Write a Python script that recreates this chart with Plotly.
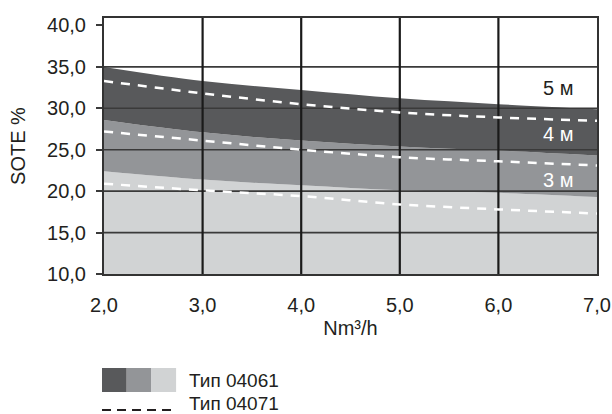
import plotly.graph_objects as go

# ---- data ----
flow = [2.0, 3.0, 4.0, 5.0, 6.0, 7.0]
band_3m_top = [22.4, 21.4, 20.7, 20.1, 19.8, 19.3]   # Тип 04061, 3 m
band_4m_top = [28.6, 27.1, 26.1, 25.4, 24.9, 24.3]   # Тип 04061, 4 m
band_5m_top = [35.0, 33.3, 32.2, 31.2, 30.5, 29.9]   # Тип 04061, 5 m
dash_5m = [33.3, 31.8, 30.5, 29.5, 28.9, 28.5]       # Тип 04071, 5 m
dash_4m = [27.2, 26.1, 25.0, 24.1, 23.6, 23.1]       # Тип 04071, 4 m
dash_3m = [20.9, 20.1, 19.4, 18.4, 17.8, 17.3]       # Тип 04071, 3 m

x_ticks = [2, 3, 4, 5, 6, 7]
x_tick_labels = ["2,0", "3,0", "4,0", "5,0", "6,0", "7,0"]
y_ticks = [10, 15, 20, 25, 30, 35, 40]
y_tick_labels = ["10,0", "15,0", "20,0", "25,0", "30,0", "35,0", "40,0"]
depth_labels = ["3 м", "4 м", "5 м"]
depth_label_y = [21.3, 26.9, 32.5]
depth_label_color = ["white", "white", "#231f20"]
legend_labels = ["Тип 04061", "Тип 04071"]

C_DARK = "#58595b"
C_MID = "#939598"
C_LIGHT = "#d1d3d4"
FONT = "Liberation Sans, Arial, sans-serif"

Y_MIN, Y_MAX = 10, 40.9

fig = go.Figure()

# filled bands
fig.add_trace(go.Scatter(x=flow, y=band_3m_top, mode="lines", line=dict(width=0, shape="spline"),
                         fill="tozeroy", fillcolor=C_LIGHT, hoverinfo="skip", showlegend=False))
fig.add_trace(go.Scatter(x=flow, y=band_4m_top, mode="lines", line=dict(width=0, shape="spline"),
                         fill="tonexty", fillcolor=C_MID, hoverinfo="skip", showlegend=False))
fig.add_trace(go.Scatter(x=flow, y=band_5m_top, mode="lines", line=dict(width=0, shape="spline"),
                         fill="tonexty", fillcolor=C_DARK, hoverinfo="skip", showlegend=False))

# grid lines drawn above fills
for yv in y_ticks[1:-1]:
    fig.add_trace(go.Scatter(x=[x_ticks[0], x_ticks[-1]], y=[yv, yv], mode="lines",
                             line=dict(color="#3a3a3a", width=1.6), hoverinfo="skip", showlegend=False))
for xv in x_ticks[1:-1]:
    fig.add_trace(go.Scatter(x=[xv, xv], y=[Y_MIN, Y_MAX], mode="lines",
                             line=dict(color="#1a1a1a", width=2.2), hoverinfo="skip", showlegend=False))

# dashed lines
for d in (dash_5m, dash_4m, dash_3m):
    fig.add_trace(go.Scatter(x=flow, y=d, mode="lines",
                             line=dict(color="white", width=2.5, dash="9px,8px", shape="spline"),
                             hoverinfo="skip", showlegend=False))

# depth labels
for lbl, yv, col in zip(depth_labels, depth_label_y, depth_label_color):
    fig.add_annotation(x=6.6, y=yv, text=lbl, showarrow=False,
                       font=dict(size=20, color=col, family=FONT))

# custom legend
sw = [C_DARK, C_MID, C_LIGHT]
x0 = 102
for i, c in enumerate(sw):
    fig.add_shape(type="rect", xref="paper", yref="paper",
                  x0=(x0 + 24.7 * i - 104) / 493, x1=(x0 + 24.7 * (i + 1) - 104) / 493,
                  y0=(274 - 392) / 256, y1=(274 - 368) / 256,
                  fillcolor=c, line=dict(width=0), layer="above")
fig.add_shape(type="line", xref="paper", yref="paper",
              x0=(102 - 104) / 493, x1=(177 - 104) / 493,
              y0=(274 - 410) / 256, y1=(274 - 410) / 256,
              line=dict(color="#231f20", width=2, dash="9px,6px"))
fig.add_annotation(xref="paper", yref="paper", x=(187 - 104) / 493, y=(274 - 380) / 256,
                   text=legend_labels[0], showarrow=False, xanchor="left", yanchor="middle",
                   font=dict(size=19, color="#231f20", family=FONT))
fig.add_annotation(xref="paper", yref="paper", x=(187 - 104) / 493, y=(274 - 403) / 256,
                   text=legend_labels[1], showarrow=False, xanchor="left", yanchor="middle",
                   font=dict(size=19, color="#231f20", family=FONT))

fig.update_layout(
    width=612, height=414,
    margin=dict(l=104, r=15, t=18, b=140),
    paper_bgcolor="white", plot_bgcolor="white",
    font=dict(family=FONT, size=20, color="#231f20"),
    showlegend=False,
)
fig.update_xaxes(range=[2, 7], tickvals=x_ticks, ticktext=x_tick_labels,
                 showgrid=False, zeroline=False, automargin=False,
                 showline=True, linecolor="#333333", linewidth=2, mirror=True,
                 ticks="", ticklabelstandoff=12,
                 title=dict(text="Nm³/h", standoff=6, font=dict(size=20)))
fig.update_yaxes(range=[Y_MIN, Y_MAX], tickvals=y_ticks, ticktext=y_tick_labels,
                 showgrid=False, zeroline=False, automargin=False,
                 showline=True, linecolor="#333333", linewidth=2, mirror=True,
                 ticks="outside", ticklen=6, tickcolor="#3a3a3a", tickwidth=1.6,
                 ticklabelstandoff=6,
                 title=dict(text="SOTE %", standoff=16, font=dict(size=20)))

fig.write_html("out.html", config={"displayModeBar": False},
               post_script="document.body.style.margin='0';")
